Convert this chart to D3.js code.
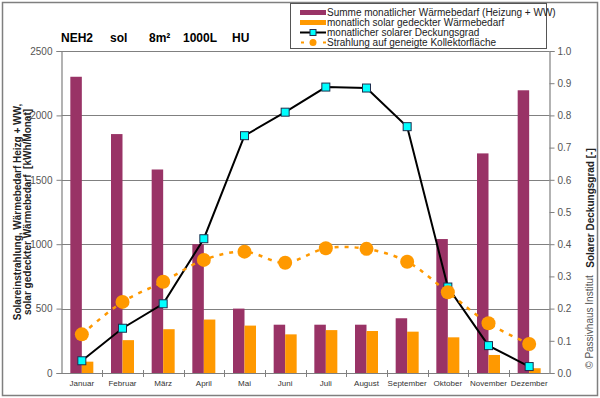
<!DOCTYPE html>
<html>
<head>
<meta charset="utf-8">
<script src="https://cdn.jsdelivr.net/npm/d3@7"></script>
<style>
  body { margin: 0; background: #fff; }
  svg { display: block; font-family: "Liberation Sans", Arial, sans-serif; }
</style>
</head>
<body>
<div class="chart"></div>
<script>
// data
const months = ["Januar", "Februar", "März", "April", "Mai", "Juni", "Juli", "August", "September", "Oktober", "November", "Dezember"];
const waermebedarf = [2300, 1855, 1580, 1000, 500, 375, 375, 375, 425, 1040, 1705, 2195];
const solarGedeckt = [88, 255, 340, 415, 368, 300, 333, 326, 321, 277, 140, 37];
const deckungsgrad = [0.038, 0.139, 0.215, 0.417, 0.737, 0.81, 0.888, 0.885, 0.765, 0.267, 0.085, 0.02];
const strahlung = [300, 552, 708, 878, 942, 856, 968, 964, 864, 627, 386, 225];

const leftTicks = [0, 500, 1000, 1500, 2000, 2500];
const rightTicks = [0, 0.1, 0.2, 0.3, 0.4, 0.5, 0.6, 0.7, 0.8, 0.9, 1.0];

const legendItems = [
    "Summe monatlicher Wärmebedarf (Heizung + WW)",
    "monatlich solar gedeckter Wärmebedarf",
    "monatlicher solarer Deckungsgrad",
    "Strahlung auf geneigte Kollektorfläche"
];

const width = 600, height = 398;
const plot = { left: 61.5, right: 549.5, top: 51, bottom: 373 };

const purple = "#993366", orange = "#ff9900", cyan = "#00ffff";

const data = months.map((m, i) => ({
    month: m,
    bedarf: waermebedarf[i],
    solar: solarGedeckt[i],
    grad: deckungsgrad[i],
    str: strahlung[i]
}));

const svg = d3.select(".chart")
    .append("svg")
    .attr("width", width)
    .attr("height", height);

// outer frame
svg.append("rect")
    .attr("x", 2.5).attr("y", 2.5)
    .attr("width", 595).attr("height", 393)
    .attr("fill", "#fff")
    .attr("stroke", "#7f7f7f")
    .attr("stroke-width", 1.5);

const x = d3.scaleBand()
    .domain(months)
    .range([plot.left, plot.right]);

const x1 = d3.scaleBand()
    .domain(["bedarf", "solar"])
    .range([x.bandwidth() / 2 - 11.5, x.bandwidth() / 2 + 11.5]);

const yL = d3.scaleLinear().domain([0, 2500]).range([plot.bottom, plot.top]);
const yR = d3.scaleLinear().domain([0, 1]).range([plot.bottom, plot.top]);

// gridlines
svg.append("g")
    .selectAll("line")
    .data(leftTicks.slice(1))
    .enter()
    .append("line")
    .attr("x1", plot.left).attr("x2", plot.right)
    .attr("y1", d => Math.round(yL(d)) + 0.5)
    .attr("y2", d => Math.round(yL(d)) + 0.5)
    .attr("stroke", "#808080")
    .attr("stroke-width", 1);

// bars
svg.append("g")
    .selectAll("rect")
    .data(data)
    .enter()
    .append("rect")
    .attr("x", d => x(d.month) + x1("bedarf"))
    .attr("y", d => yL(d.bedarf))
    .attr("width", x1.bandwidth())
    .attr("height", d => yL(0) - yL(d.bedarf))
    .attr("fill", purple);

svg.append("g")
    .selectAll("rect")
    .data(data)
    .enter()
    .append("rect")
    .attr("x", d => x(d.month) + x1("solar"))
    .attr("y", d => yL(d.solar))
    .attr("width", x1.bandwidth())
    .attr("height", d => yL(0) - yL(d.solar))
    .attr("fill", orange);

// axes
const axisColor = "#808080";
const leftAxis = d3.axisLeft(yL).tickValues(leftTicks).tickSize(5).tickFormat(d3.format("d"));
const rightAxis = d3.axisRight(yR).tickValues(rightTicks).tickSize(5).tickFormat(d3.format(".1f"));

const gL = svg.append("g")
    .attr("transform", `translate(${plot.left},0)`)
    .call(leftAxis);
const gR = svg.append("g")
    .attr("transform", `translate(${plot.right},0)`)
    .call(rightAxis);

[gL, gR].forEach(g => {
    g.select(".domain").attr("stroke", axisColor).attr("stroke-width", 1.2);
    g.selectAll(".tick line").attr("stroke", axisColor);
    g.selectAll(".tick text")
        .attr("fill", "#555")
        .style("font-size", "10px")
        .style("font-family", "Liberation Sans, Arial, sans-serif");
});
gL.selectAll(".tick text").attr("x", -9);
gR.selectAll(".tick text").attr("x", 8);

// x axis
svg.append("line")
    .attr("x1", plot.left).attr("x2", plot.right)
    .attr("y1", plot.bottom + 0.5).attr("y2", plot.bottom + 0.5)
    .attr("stroke", axisColor)
    .attr("stroke-width", 1.2);

svg.append("g")
    .selectAll("line")
    .data(months.slice(1))
    .enter()
    .append("line")
    .attr("x1", d => Math.round(x(d)) + 0.5)
    .attr("x2", d => Math.round(x(d)) + 0.5)
    .attr("y1", plot.bottom - 3)
    .attr("y2", plot.bottom + 4)
    .attr("stroke", axisColor);

svg.append("g")
    .selectAll("text")
    .data(months)
    .enter()
    .append("text")
    .attr("x", d => x(d) + x.bandwidth() / 2)
    .attr("y", plot.bottom + 13)
    .attr("text-anchor", "middle")
    .style("font-size", "8px")
    .attr("fill", "#333")
    .text(d => d);

// Deckungsgrad line
const gradLine = d3.line()
    .x(d => x(d.month) + x.bandwidth() / 2)
    .y(d => yR(d.grad));

svg.append("path")
    .datum(data)
    .attr("d", gradLine)
    .attr("fill", "none")
    .attr("stroke", "#000")
    .attr("stroke-width", 2);

svg.append("g")
    .selectAll("rect")
    .data(data)
    .enter()
    .append("rect")
    .attr("x", d => x(d.month) + x.bandwidth() / 2 - 4)
    .attr("y", d => yR(d.grad) - 4)
    .attr("width", 8)
    .attr("height", 8)
    .attr("fill", cyan)
    .attr("stroke", "#1f2f4f")
    .attr("stroke-width", 1);

// Strahlung dashed smooth line
const strLine = d3.line()
    .x(d => x(d.month) + x.bandwidth() / 2)
    .y(d => yL(d.str))
    .curve(d3.curveCatmullRom.alpha(0.5));

svg.append("path")
    .datum(data)
    .attr("d", strLine)
    .attr("fill", "none")
    .attr("stroke", orange)
    .attr("stroke-width", 2.5)
    .attr("stroke-dasharray", "4,6");

svg.append("g")
    .selectAll("circle")
    .data(data)
    .enter()
    .append("circle")
    .attr("cx", d => x(d.month) + x.bandwidth() / 2)
    .attr("cy", d => yL(d.str))
    .attr("r", 7)
    .attr("fill", orange);

// title
const title = svg.append("text")
    .attr("y", 42)
    .style("font-size", "12px")
    .style("font-weight", "bold")
    .attr("fill", "#000");
[["NEH2", 61], ["sol", 110], ["8m²", 149], ["1000L", 183], ["HU", 232]].forEach(p => {
    title.append("tspan").attr("x", p[1]).text(p[0]);
});

// axis titles
svg.append("text")
    .attr("transform", `translate(21,${(plot.top + plot.bottom) / 2}) rotate(-90)`)
    .attr("text-anchor", "middle")
    .style("font-size", "10px")
    .style("font-weight", "bold")
    .attr("fill", "#222")
    .text("Solareinstrahlung, Wärmebedarf Heizg + WW,");
svg.append("text")
    .attr("transform", `translate(31,${(plot.top + plot.bottom) / 2}) rotate(-90)`)
    .attr("text-anchor", "middle")
    .style("font-size", "10px")
    .style("font-weight", "bold")
    .attr("fill", "#222")
    .attr("xml:space", "preserve")
    .text("solar gedeckter Wärmebedarf  [kWh/Monat]");

svg.append("text")
    .attr("transform", `translate(594,208) rotate(-90)`)
    .attr("text-anchor", "middle")
    .style("font-size", "10px")
    .style("font-weight", "bold")
    .attr("fill", "#222")
    .text("Solarer Deckungsgrad [-]");

svg.append("text")
    .attr("transform", `translate(593,322) rotate(-90)`)
    .attr("text-anchor", "middle")
    .style("font-size", "10px")
    .attr("fill", "#555")
    .text("© Passivhaus Institut");

// legend
const legend = svg.append("g");
legend.append("rect")
    .attr("x", 290.5).attr("y", 3.5)
    .attr("width", 256).attr("height", 45)
    .attr("fill", "#fff")
    .attr("stroke", "#555")
    .attr("stroke-width", 1);

const rows = legend.selectAll("g")
    .data(legendItems)
    .enter()
    .append("g")
    .attr("transform", (d, i) => `translate(300,${12.5 + i * 10})`);

rows.append("text")
    .attr("x", 27)
    .attr("dy", "0.35em")
    .style("font-size", "10px")
    .attr("fill", "#222")
    .text(d => d);

rows.filter((d, i) => i === 0).append("rect")
    .attr("x", 0).attr("y", -2.5).attr("width", 26).attr("height", 5).attr("fill", purple);
rows.filter((d, i) => i === 1).append("rect")
    .attr("x", 0).attr("y", -2.5).attr("width", 26).attr("height", 5).attr("fill", orange);

const lineRow = rows.filter((d, i) => i === 2);
lineRow.append("line")
    .attr("x1", 0).attr("x2", 26).attr("y1", 0).attr("y2", 0)
    .attr("stroke", "#000").attr("stroke-width", 2);
lineRow.append("rect")
    .attr("x", 10).attr("y", -3).attr("width", 6).attr("height", 6)
    .attr("fill", cyan).attr("stroke", "#1f2f4f");

const dashRow = rows.filter((d, i) => i === 3);
dashRow.append("line")
    .attr("x1", 1).attr("x2", 26).attr("y1", 0).attr("y2", 0)
    .attr("stroke", orange).attr("stroke-width", 2)
    .attr("stroke-dasharray", "3,8");
dashRow.append("circle")
    .attr("cx", 13).attr("cy", 0).attr("r", 3.5)
    .attr("fill", orange);
</script>
</body>
</html>
